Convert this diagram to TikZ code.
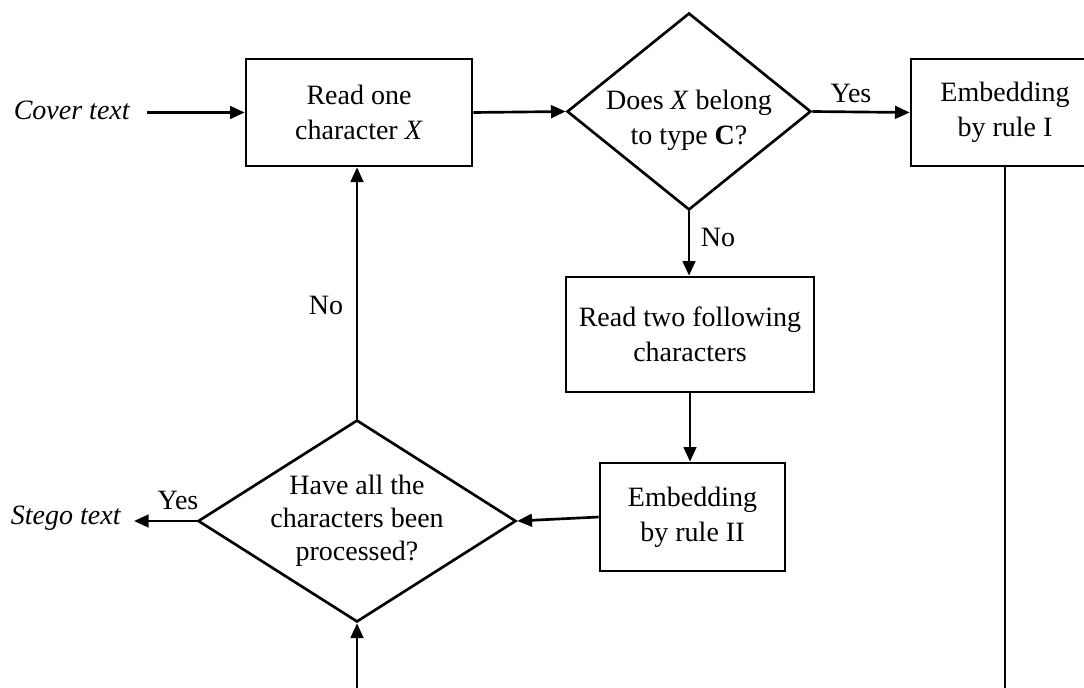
\documentclass[tikz,border=0pt]{standalone}
\usepackage{fontspec}
\setmainfont{Liberation Serif}
\usetikzlibrary{shapes.geometric,arrows.meta}
\begin{document}
\begin{tikzpicture}[x=0.75pt,y=-0.75pt,
  every node/.style={font=\fontsize{21}{26.5}\selectfont, align=center},
  box/.style={draw, line width=2pt, rectangle, inner sep=0pt},
  dec/.style={draw, line width=2pt, diamond, inner sep=0pt},
  conn/.style={line width=2pt, -{Triangle[length=11pt,width=9.5pt]}},
  plainline/.style={line width=2pt}]
\clip (0,0) rectangle (1084,688);
\node[box, minimum width=169.5pt, minimum height=80.25pt] (read) at (359,112.5) {Read one\\character \textit{X}};
\node[dec, minimum width=183pt, minimum height=147.75pt] (d1) at (689,111.5) {};
\node (d1t) at (689,120) {Does \textit{X} belong\\to type \textbf{C}?};
\node[box, minimum width=141pt, minimum height=80.25pt] (e1) at (1005,112.5) {Embedding\\by rule I};
\node[box, minimum width=186pt, minimum height=86.25pt] (r2) at (690,334.5) {Read two following\\characters};
\node[box, minimum width=138.75pt, minimum height=81pt] (e2) at (692.5,517) {Embedding\\by rule II};
\node[dec, minimum width=238.5pt, minimum height=151.5pt] (d2) at (357,521) {};
\node[font=\fontsize{21}{24.8}\selectfont] (d2t) at (357,521) {Have all the\\characters been\\processed?};
\node (cover) at (72,110) {\textit{Cover text}};
\node (stego) at (66,518) {\textit{Stego text}};
\coordinate (cs) at (147,112.5);
\coordinate (se) at (134,521);
\coordinate (bot2) at (357,688);
\coordinate (bot1) at (1005,688);
\draw[conn] (cs) -- (read.west);
\draw[conn] (read.east) -- (d1.west);
\draw[conn] (d1.east) -- (e1.west);
\node (yes1) at (851,93) {Yes};
\draw[conn] (d1.south) -- (d1.south |- r2.north);
\node (no1) at (718,237) {No};
\draw[conn] (r2.south) -- (r2.south |- e2.north);
\draw[conn] (e2.west) -- (d2.east);
\draw[conn] (d2.north) -- (d2.north |- read.south);
\node (no2) at (326,305) {No};
\draw[conn] (d2.west) -- (se);
\node (yes2) at (178,500) {Yes};
\draw[conn] (bot2) -- (d2.south);
\draw[plainline] (e1.south) -- (bot1);
\end{tikzpicture}
\end{document}
